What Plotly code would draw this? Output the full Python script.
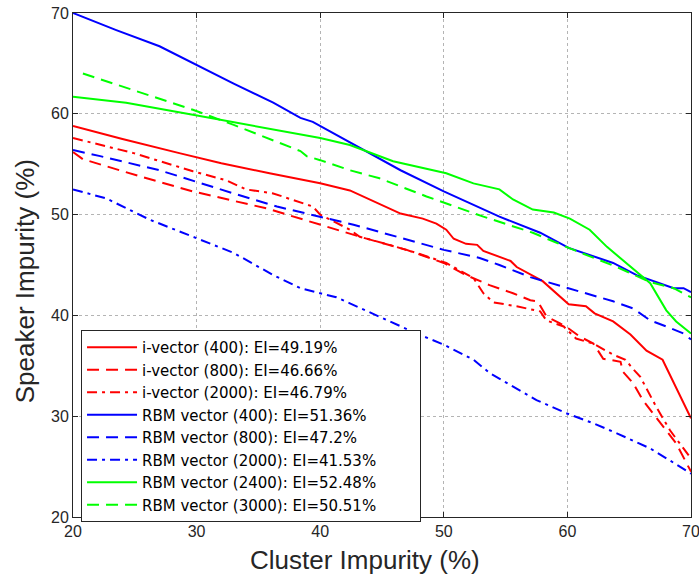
import plotly.graph_objects as go

# i-vector (400)
xr400 = [20, 24, 28.6, 32, 35.9, 40, 42.4, 43.8, 46.5, 48.3, 49.4, 50.2, 50.8, 51.8, 52.7, 53.2, 55.4, 55.9, 58.0, 60.1, 61.5, 62.2, 63.7, 65.1, 66.4, 67.7, 70]
yr400 = [58.8, 57.5, 56.1, 55.1, 54.1, 53.1, 52.4, 51.6, 50.1, 49.6, 49.1, 48.5, 47.6, 47.1, 47.0, 46.4, 45.4, 44.8, 43.4, 41.1, 40.9, 40.2, 39.4, 38.1, 36.5, 35.6, 29.8]
# i-vector (800)
xr800 = [20, 20.8, 25.4, 29.7, 35.7, 40, 43.5, 47, 50, 51.8, 52.9, 53.7, 55.6, 57, 57.6, 58.3, 59.4, 60.1, 61, 62.1, 62.9, 64.3, 64.5, 65.3, 66.1, 67.8, 68.8, 70]
yr800 = [56.2, 55.5, 53.8, 52.3, 50.6, 49.0, 47.7, 46.5, 45.2, 44.0, 43.4, 43.0, 42.2, 41.5, 41.4, 39.9, 39.2, 38.7, 37.9, 37.2, 35.7, 35.4, 34.4, 33.3, 31.6, 28.9, 27.3, 24.5]
# i-vector (2000)
xr2000 = [20, 24.9, 29.7, 32.4, 34, 36.2, 39.4, 40, 42.4, 43.2, 45.6, 47.8, 50.2, 51.6, 52.4, 53.2, 54, 55.9, 57.8, 58.3, 59.7, 60.7, 62.1, 63.7, 64.7, 65.3, 65.9, 67.2, 68.3, 70]
yr2000 = [57.6, 56.1, 54.3, 53.4, 52.5, 52.1, 50.8, 50.0, 48.5, 47.8, 47.0, 46.2, 45.2, 44.2, 43.7, 42.2, 41.3, 40.9, 40.4, 39.5, 38.9, 37.7, 37.2, 36.1, 35.6, 34.7, 33.9, 30.9, 28.6, 25.8]
# RBM vector (400)
xb400 = [20, 23.5, 27, 29.7, 33, 36.2, 38.4, 39.4, 42.4, 43.2, 46.5, 50, 52.9, 54.5, 57.8, 60.1, 63.7, 65.6, 68.6, 69.4, 70]
yb400 = [70.0, 68.3, 66.7, 65.0, 63.0, 61.1, 59.6, 59.2, 57.2, 56.6, 54.4, 52.3, 50.7, 49.8, 48.2, 46.7, 45.2, 44.0, 42.7, 42.7, 42.3]
# RBM vector (800)
xb800 = [20, 22.2, 27, 29.7, 33, 36.5, 40, 42.7, 46.5, 50, 52.9, 54.5, 57, 60.1, 63.7, 65.3, 66.7, 68, 69.4, 70]
yb800 = [56.4, 55.8, 54.4, 53.4, 52.1, 50.8, 49.8, 49.0, 47.7, 46.5, 45.7, 45.0, 43.8, 42.7, 41.4, 40.7, 39.5, 38.9, 38.2, 37.6]
# RBM vector (2000)
xb2000 = [20, 22.7, 26.2, 29.7, 33, 36.2, 38.4, 40, 41.3, 42.4, 47.8, 50, 52.4, 53.7, 57.5, 59.9, 62.1, 64, 66.7, 68.3, 70]
yb2000 = [52.5, 51.6, 49.5, 47.8, 46.2, 44.0, 42.7, 42.2, 41.8, 41.2, 38.2, 37.1, 35.6, 34.3, 31.6, 30.3, 29.3, 28.3, 26.8, 25.6, 24.3]
# RBM vector (2400)
xg2400 = [20, 24.3, 29.7, 35.7, 40, 42.4, 45.9, 50.2, 52.4, 54.5, 55.6, 57.2, 58.9, 60.2, 61.8, 63.2, 65.1, 66.7, 68, 68.8, 70]
yg2400 = [61.7, 61.1, 59.9, 58.6, 57.6, 56.9, 55.3, 54.1, 53.1, 52.5, 51.5, 50.5, 50.2, 49.6, 48.5, 46.8, 44.8, 43.2, 40.5, 39.4, 38.2]
# RBM vector (3000)
xg3000 = [20.8, 24, 29.7, 33, 36.7, 38.4, 38.9, 40, 42.4, 44.8, 48.6, 51.3, 53.2, 57.2, 59.9, 64, 66.7, 68.6, 70]
yg3000 = [64.0, 62.7, 60.4, 58.9, 57.1, 56.3, 55.8, 55.4, 54.4, 53.6, 51.8, 50.6, 49.8, 48.2, 46.8, 44.8, 43.3, 42.7, 41.8]

names = [
    "i-vector (400): EI=49.19%",
    "i-vector (800): EI=46.66%",
    "i-vector (2000): EI=46.79%",
    "RBM vector (400): EI=51.36%",
    "RBM vector (800): EI=47.2%",
    "RBM vector (2000): EI=41.53%",
    "RBM vector (2400): EI=52.48%",
    "RBM vector (3000): EI=50.51%",
]
ticks = [20, 30, 40, 50, 60, 70]
x_title = "Cluster Impurity (%)"
y_title = "Speaker Impurity (%)"

DASH = "12px,7px"
DASHDOT = "10px,5px,3px,5px"
series = [
    (xr400, yr400, "#ff0000", "solid"),
    (xr800, yr800, "#ff0000", DASH),
    (xr2000, yr2000, "#ff0000", DASHDOT),
    (xb400, yb400, "#0000ff", "solid"),
    (xb800, yb800, "#0000ff", DASH),
    (xb2000, yb2000, "#0000ff", DASHDOT),
    (xg2400, yg2400, "#00ff00", "solid"),
    (xg3000, yg3000, "#00ff00", DASH),
]

PAD = "\u00a0" * 8  # right padding inside the legend box

fig = go.Figure()
for (xs, ys, col, dash), nm in zip(series, names):
    fig.add_trace(go.Scatter(x=xs, y=ys, mode="lines", name=nm + PAD,
                             line=dict(color=col, width=2, dash=dash)))

FONT = "Liberation Sans, Arial, sans-serif"
axis_common = dict(
    range=[20, 70], tickvals=ticks, ticktext=[str(t) for t in ticks],
    showgrid=True, gridcolor="#b4b4b4", griddash="dot", gridwidth=1,
    showline=True, linecolor="#262626", linewidth=1, mirror="ticks",
    ticks="inside", ticklen=5, tickcolor="#262626",
    tickfont=dict(family=FONT, size=16, color="#262626"),
    zeroline=False, automargin=False, ticklabeloverflow="allow",
)
fig.update_layout(
    width=699, height=576,
    margin=dict(l=73, r=8, t=13, b=59, autoexpand=False),
    plot_bgcolor="white", paper_bgcolor="white",
    xaxis=dict(**axis_common),
    yaxis=dict(**axis_common),
    legend=dict(x=0.013, y=0.371, xanchor="left", yanchor="top",
                bgcolor="white", bordercolor="#262626", borderwidth=1,
                font=dict(family="DejaVu Sans, sans-serif", size=15, color="#000000"),
                tracegroupgap=0, itemwidth=50),
    showlegend=True,
    annotations=[
        dict(text=x_title, xref="paper", yref="paper", x=0.473, y=-0.086,
             xanchor="center", yanchor="middle", showarrow=False,
             font=dict(family=FONT, size=26, color="#262626")),
        dict(text=y_title, xref="paper", yref="paper", x=-0.0775, y=0.468,
             xanchor="center", yanchor="middle", showarrow=False, textangle=-90,
             font=dict(family=FONT, size=26, color="#262626")),
    ],
)
fig.write_html("out.html")
